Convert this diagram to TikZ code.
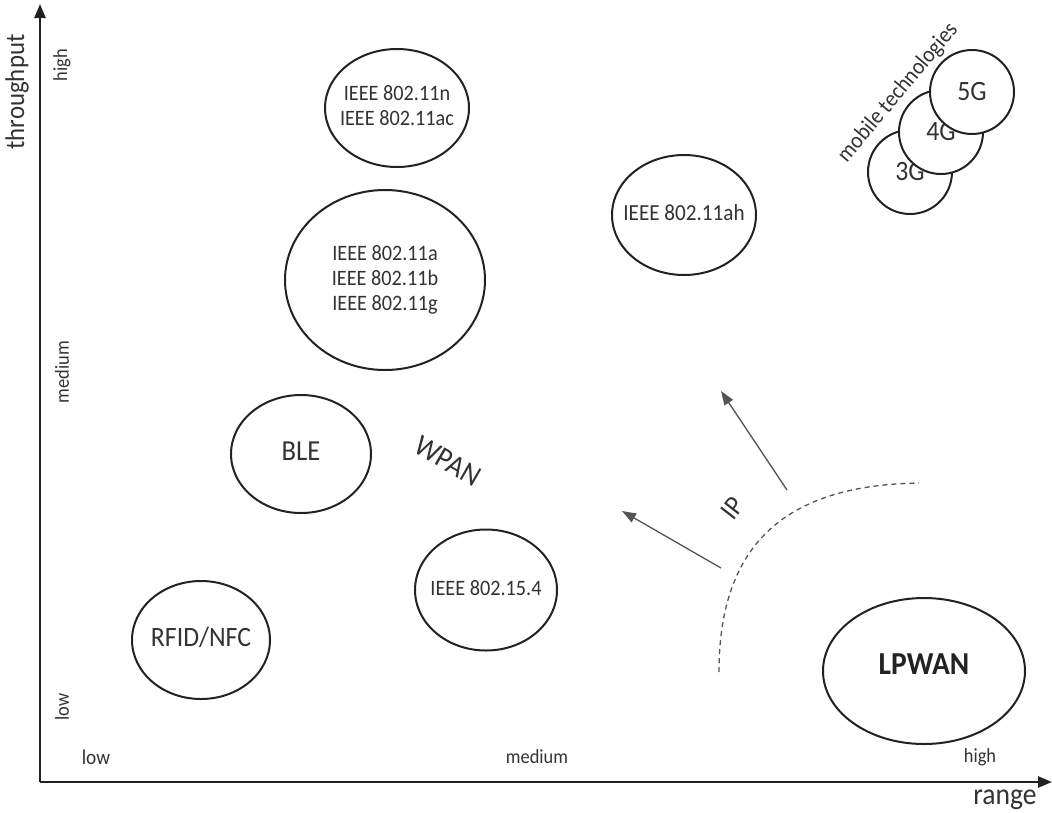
\documentclass[tikz,border=0pt]{standalone}
\usepackage{fontspec}
\setmainfont{Carlito}[FakeStretch=0.92]
\usetikzlibrary{arrows.meta,shapes.geometric}
\definecolor{txt}{HTML}{333333}
\definecolor{ln}{HTML}{222222}
\definecolor{arr}{HTML}{555555}
\newcommand{\fs}[2]{\fontsize{#1}{#2}\selectfont}
\newcommand{\ctext}[1]{\makebox[0pt]{\begin{tabular}{@{}c@{}}#1\end{tabular}}}
\begin{document}
\begin{tikzpicture}[x=1pt,y=-1pt,
  tech/.style={ellipse,draw=ln,line width=2pt,fill=white,inner sep=0pt,text=txt},
  circ/.style={circle,draw=ln,line width=2pt,fill=white,inner sep=0pt,minimum size=84pt,text=txt,font=\fs{28}{32}},
  lbl/.style={text=txt,inner sep=0pt},
  axis/.style={draw=ln,line width=2.5pt,-{Triangle[length=14pt,width=11pt]}},
  iparrow/.style={draw=arr,line width=1.3pt,-{Triangle[length=14pt,width=10pt]}}
]
\useasboundingbox (0,0) rectangle (1052,812);
% axes
\coordinate (O) at (40,782);
\coordinate (Ytop) at (40,4);
\coordinate (Xend) at (1052,782);
\draw[axis] (O) -- (Ytop);
\draw[axis] (O) -- (Xend);
\node[lbl,rotate=90,font=\fs{27}{30}] (thr) at (17,92) {throughput};
\node[lbl,rotate=90,font=\fs{20}{24}] (yhigh) at (62,65) {high};
\node[lbl,rotate=90,font=\fs{20}{24}] (ymed) at (62,372) {medium};
\node[lbl,rotate=90,font=\fs{20}{24}] (ylow) at (62,707) {low};
\node[lbl,font=\fs{21}{24}] (xlow) at (96,757) {low};
\node[lbl,font=\fs{20}{24}] (xmed) at (537,757) {medium};
\node[lbl,font=\fs{20}{24}] (xhigh) at (980,757) {high};
\node[lbl,font=\fs{30}{34}] (range) at (1005,800) {range};
% technologies
\node[tech,minimum width=144pt,minimum height=118pt,font=\fs{22}{25}] (n11nac) at (397,108) {\ctext{IEEE 802.11n\\IEEE 802.11ac}};
\node[tech,minimum width=200pt,minimum height=180pt,font=\fs{22}{25}] (n11abg) at (385,280) {\ctext{IEEE 802.11a\\IEEE 802.11b\\IEEE 802.11g}};
\node[tech,minimum width=144pt,minimum height=120pt,font=\fs{23}{25}] (n11ah) at (684,215) {\ctext{IEEE 802.11ah}};
\node[tech,minimum width=140pt,minimum height=118pt,font=\fs{29}{32}] (ble) at (301,454) {\ctext{BLE}};
\node[tech,minimum width=142pt,minimum height=121pt,font=\fs{22}{25}] (n154) at (486,590) {\ctext{IEEE 802.15.4}};
\node[tech,minimum width=138pt,minimum height=118pt,font=\fs{28}{32}] (rfid) at (201,640) {\ctext{RFID/NFC}};
\node[tech,minimum width=202pt,minimum height=146pt,text=ln,font=\bfseries\fs{32}{36}] (lpwan) at (924,671) {\ctext{\raisebox{4pt}{LPWAN}}};
% mobile
\node[circ] (g3) at (910,172) {\raisebox{-4pt}{3G}};
\node[circ] (g4) at (941,132) {\raisebox{-4pt}{4G}};
\node[circ] (g5) at (972,92) {\raisebox{-4pt}{5G}};
\node[lbl,rotate=50,font=\fs{23}{26}] (mob) at (898,93) {mobile technologies};
% WPAN / IP
\node[lbl,rotate=-30,font=\fs{30}{34}] (wpan) at (448,461) {WPAN};
\node[lbl,rotate=52,font=\fs{28}{32}] (ip) at (733,508) {IP};
\coordinate (a1s) at (721,568);
\coordinate (a1e) at (622,511);
\coordinate (a2s) at (787,490);
\coordinate (a2e) at (721,391);
\draw[iparrow] (a1s) -- (a1e);
\draw[iparrow] (a2s) -- (a2e);
\coordinate (d1) at (719,672);
\coordinate (d2) at (919,483);
\draw[draw=arr,line width=1.3pt,dash pattern=on 5pt off 4pt] (d1) .. controls (719,540) and (790,485) .. (d2);
\end{tikzpicture}
\end{document}
